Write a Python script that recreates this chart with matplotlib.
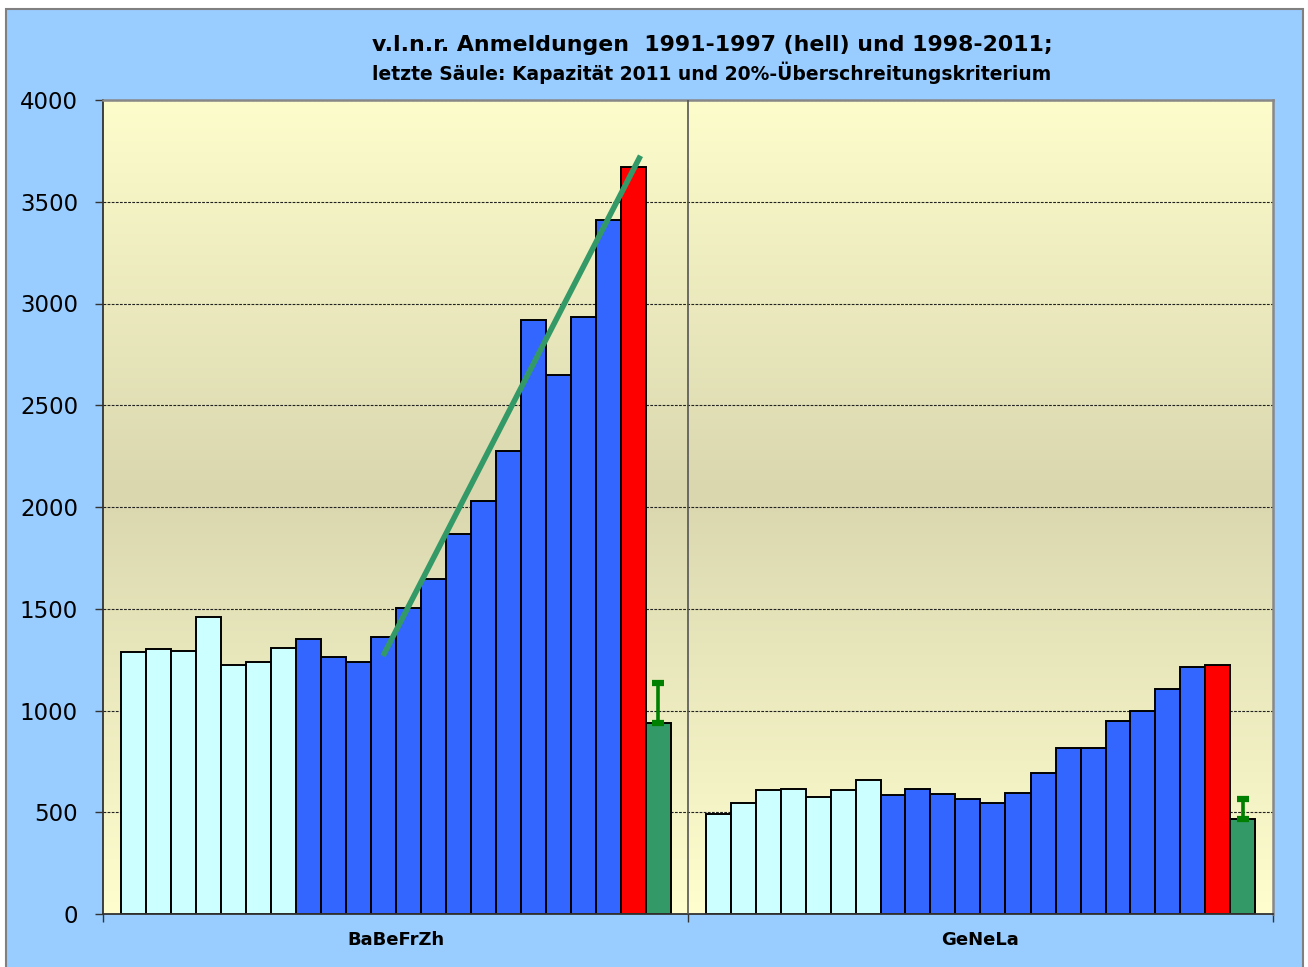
import matplotlib
matplotlib.use('Agg')
import matplotlib.pyplot as plt
import numpy as np
from matplotlib.patches import Rectangle

# ---------------- data ----------------
categories = ['BaBeFrZh', 'GeNeLa']

# Anmeldungen 1991-1997 (hell)
babe_light = [1289, 1301, 1292, 1458, 1222, 1240, 1308]
gene_light = [491, 545, 609, 616, 573, 609, 660]

# Anmeldungen 1998-2010 (blau)
babe_blue = [1353, 1264, 1240, 1362, 1506, 1644, 1865, 2031, 2273, 2917, 2647, 2933, 3412]
gene_blue = [583, 616, 588, 566, 545, 595, 693, 814, 814, 946, 996, 1106, 1215]

# Anmeldungen 2011 (rot)
red_vals = [3669, 1222]

# Kapazitaet 2011 (gruen) und 20%-Ueberschreitungskriterium
capacity_vals = [939, 467]
capacity_limit = [1133, 566]

# Trendlinie BaBeFrZh (bar index, value)
trend_x = [10.0, 20.3]
trend_y = [1268, 3726]

yticks = [0, 500, 1000, 1500, 2000, 2500, 3000, 3500, 4000]

title1 = 'v.l.n.r. Anmeldungen  1991-1997 (hell) und 1998-2011;'
title2 = 'letzte Säule: Kapazität 2011 und 20%-Überschreitungskriterium'

# ---------------- style ----------------
W, H = 1308, 967
C_LIGHT = '#CCFFFF'
C_BLUE = '#3366FF'
C_RED = '#FF0000'
C_GREEN = '#339966'
C_ERR = '#008000'
BG = '#99CCFF'

plt.rcParams['font.family'] = ['DejaVu Sans']

fig = plt.figure(figsize=(W / 100, H / 100), dpi=100)
fig.patch.set_facecolor('white')
fig.patches.append(Rectangle((6 / W, -0.01), (1303 - 6) / W, (H - 9) / H + 0.01,
                             transform=fig.transFigure, facecolor=BG,
                             edgecolor='#808080', linewidth=1.5, zorder=-10))

ax = fig.add_axes([103 / W, (H - 914) / H, 1170 / W, 814 / H])
span = 23.4
half_gap = 0.7
ax.set_xlim(0, 2 * span)
ax.set_ylim(0, 4000)

# gradient background
top = np.array([0xFD, 0xFD, 0xCC]) / 255
mid = np.array([0xDA, 0xD7, 0xAF]) / 255
bot = np.array([0xFE, 0xFE, 0xCE]) / 255
n = 400
t = np.linspace(0, 1, n)[:, None]  # 0 top -> 1 bottom
peak = 0.48
w_top = np.clip(t / peak, 0, 1)
w_bot = np.clip((t - peak) / (1 - peak), 0, 1)
grad = np.where(t <= peak, top * (1 - w_top) + mid * w_top, mid * (1 - w_bot) + bot * w_bot)
grad = grad[:, None, :]
ax.imshow(grad, extent=[0, 2 * span, 0, 4000], aspect='auto', zorder=0, interpolation='bilinear')

ax.set_axisbelow(True)
ax.yaxis.grid(True, linestyle=(0, (2.5, 1.2)), color='#222222', linewidth=0.8)

groups = [
    (babe_light, babe_blue, red_vals[0], capacity_vals[0], capacity_limit[0]),
    (gene_light, gene_blue, red_vals[1], capacity_vals[1], capacity_limit[1]),
]

for g, (light, blue, red, cap, lim) in enumerate(groups):
    vals = list(light) + list(blue) + [red, cap]
    colors = [C_LIGHT] * len(light) + [C_BLUE] * len(blue) + [C_RED, C_GREEN]
    x = g * span + half_gap + np.arange(len(vals)) + 0.5
    ax.bar(x, vals, width=1.0, color=colors, edgecolor='black', linewidth=1.4, zorder=2)
    ax.errorbar([x[-1]], [cap], yerr=[[0], [lim - cap]], fmt='none', ecolor=C_ERR,
                elinewidth=2.6, capsize=4, capthick=4.5, zorder=5)
    if g == 0:
        tx = g * span + half_gap + np.array(trend_x) + 0.5
        ax.plot(tx, trend_y, color=C_GREEN, linewidth=4.0, solid_capstyle='butt', zorder=4)

ax.axvline(span, color='#555555', linewidth=1.2, zorder=3)

for s in ['left', 'bottom']:
    ax.spines[s].set_color('#333333')
    ax.spines[s].set_linewidth(1.3)
for s in ['top', 'right']:
    ax.spines[s].set_color('#888888')
    ax.spines[s].set_linewidth(1.8)

ax.set_yticks(yticks)
ax.set_yticklabels([str(v) for v in yticks], fontsize=16.5)
ax.tick_params(axis='y', direction='out', length=6, width=1.0, color='#333333', pad=12)

ax.set_xticks([0, span, 2 * span])
ax.set_xticklabels(['', '', ''])
ax.set_xticks([span / 2, span * 1.5], minor=True)
ax.set_xticklabels(categories, minor=True, fontsize=13, fontweight='bold')
ax.tick_params(axis='x', which='minor', length=0, pad=12)
ax.tick_params(axis='x', which='major', direction='out', length=6, width=1.0, color='#333333')

fig.text(712 / W, 1 - 45 / H, title1, ha='center', va='center', fontsize=15.8, fontweight='bold')
fig.text(712 / W, 1 - 73 / H, title2, ha='center', va='center', fontsize=13.5, fontweight='bold')

fig.savefig('out.png', dpi=100, facecolor=fig.get_facecolor())
